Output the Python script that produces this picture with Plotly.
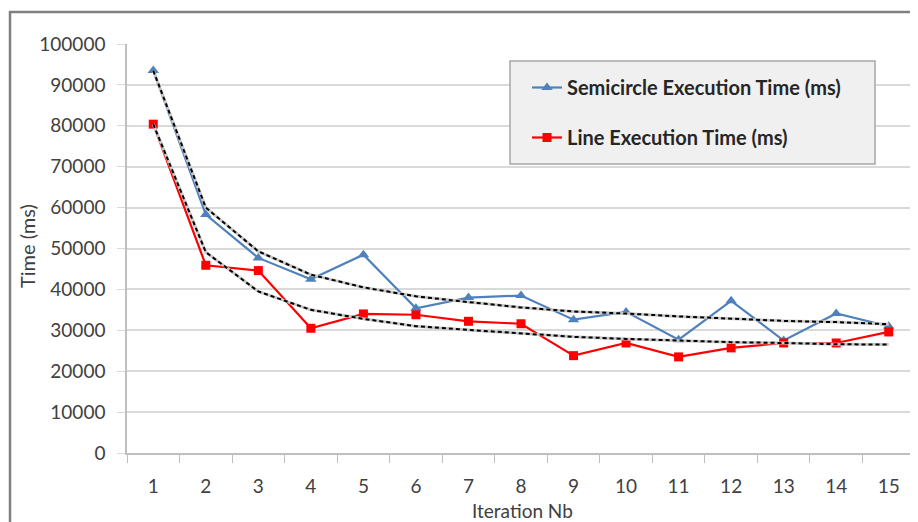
import plotly.graph_objects as go

iterations = [str(i) for i in range(1, 16)]
semicircle_ms = [93500, 58300, 47700, 42500, 48500, 35400, 38000, 38500, 32600, 34500, 27700, 37200, 27500, 34100, 31000]
line_ms = [80400, 45900, 44600, 30500, 34000, 33800, 32200, 31600, 23800, 26900, 23500, 25700, 26900, 26900, 29600]
semicircle_trend = [93500, 60000, 49300, 43600, 40500, 38300, 36900, 35600, 34600, 34100, 33400, 32800, 32300, 32000, 31500]
line_trend = [80400, 49100, 39500, 35000, 32800, 31000, 30100, 29200, 28400, 27900, 27500, 27100, 26900, 26600, 26500]
y_ticks = [0, 10000, 20000, 30000, 40000, 50000, 60000, 70000, 80000, 90000, 100000]

FONT = "Lato"
TXT = "#404040"

# page body has an 8px margin; plot area on page: x 127..915, y 44..453
PL, PT, PW, PH = 127, 44, 788, 409


def px(p):
    return (p - PL) / PW


def py(p):
    return (PT + PH - p) / PH


fig = go.Figure()
fig.add_trace(go.Scatter(
    x=iterations, y=semicircle_ms, mode="lines+markers",
    name="Semicircle Execution Time (ms)", legendgroup="a",
    line=dict(color="#4f81bd", width=2.2),
    marker=dict(symbol="triangle-up", size=10, color="#4f81bd"),
))
fig.add_trace(go.Scatter(
    x=iterations, y=line_ms, mode="lines+markers",
    name="Line Execution Time (ms)", legendgroup="b",
    line=dict(color="#ff0000", width=2.2),
    marker=dict(symbol="square", size=9, color="#ff0000"),
))
for tr in (semicircle_trend, line_trend):
    fig.add_trace(go.Scatter(x=iterations, y=tr, mode="lines", showlegend=False,
                             hoverinfo="skip", line=dict(color="#c8c8c8", width=3)))
    fig.add_trace(go.Scatter(x=iterations, y=tr, mode="lines", showlegend=False,
                             line=dict(color="#000000", width=2, dash="4px,3px")))

fig.update_layout(
    width=918, height=522, autosize=False,
    margin=dict(l=PL - 8, r=918 - (PL - 8) - PW, t=PT - 8, b=522 - (PT - 8) - PH),
    paper_bgcolor="white", plot_bgcolor="white",
    font=dict(family=FONT, color=TXT),
    showlegend=True,
    legend=dict(
        x=px(527), y=py(68), xanchor="left", yanchor="top",
        bgcolor="rgba(0,0,0,0)", borderwidth=0,
        font=dict(family=FONT, size=20, color="#262626", weight="bold"),
        traceorder="grouped", tracegroupgap=21,
        itemwidth=30,
    ),
    xaxis=dict(
        type="category", tickson="boundaries", range=[-0.5, 14.5],
        ticks="outside", ticklen=8, tickcolor="#bfbfbf",
        showline=True, linecolor="#bfbfbf", linewidth=1.5,
        showgrid=False, zeroline=False, ticklabelstandoff=15,
        tickfont=dict(family=FONT, size=19, color=TXT),
    ),
    yaxis=dict(
        range=[0, 100000], tickvals=y_ticks, ticktext=[str(v) for v in y_ticks],
        ticks="outside", ticklen=8, tickcolor="#d9d9d9",
        showline=True, linecolor="#bfbfbf", linewidth=1.5,
        showgrid=True, gridcolor="#d9d9d9", gridwidth=1.5, zeroline=False,
        ticklabelstandoff=8,
        tickfont=dict(family=FONT, size=19, color=TXT),
    ),
    shapes=[
        dict(type="rect", xref="paper", yref="paper", layer="above",
             x0=px(510), x1=px(875), y0=py(164), y1=py(61),
             fillcolor="#f0f0f0", line=dict(color="#a6a6a6", width=1.5)),
        dict(type="path", xref="paper", yref="paper", layer="above",
             path="M {x0},{y0} L {x0},{y1} L {x2},{y1}".format(
                 x0=px(10), y0=py(540), y1=py(12), x2=px(940)),
             line=dict(color="#808080", width=2.5)),
    ],
    annotations=[
        dict(text="Time (ms)", xref="paper", yref="paper",
             x=px(27), y=py(246), textangle=-90,
             showarrow=False, xanchor="center", yanchor="middle",
             font=dict(family=FONT, size=20, color=TXT)),
        dict(text="Iteration Nb", xref="paper", yref="paper",
             x=px(522), y=py(511), yanchor="middle",
             showarrow=False, xanchor="center",
             font=dict(family=FONT, size=19, color=TXT)),
    ],
)

fig.write_html("out.html")
